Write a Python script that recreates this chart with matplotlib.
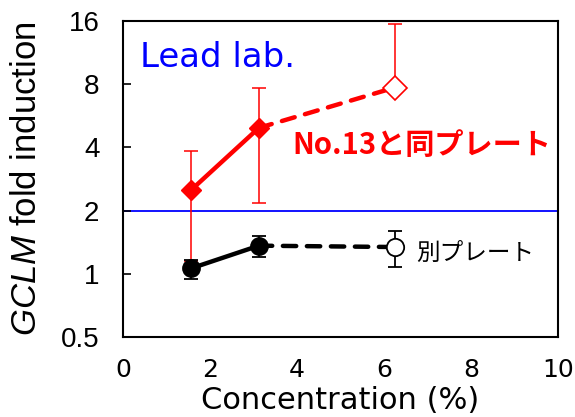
import matplotlib
matplotlib.use("Agg")
import matplotlib.pyplot as plt
from matplotlib.ticker import FixedLocator, NullLocator

plt.rcParams["mathtext.fontset"] = "custom"
plt.rcParams["mathtext.it"] = "Liberation Sans:italic"

conc = [1.5625, 3.125, 6.25]
red_vals = [2.5, 4.95, 7.7]
red_err_lo = [1.15, 2.18, 7.7]
red_err_hi = [3.82, 7.7, 15.5]
blk_vals = [1.06, 1.36, 1.34]
blk_err_lo = [0.94, 1.2, 1.08]
blk_err_hi = [1.16, 1.52, 1.59]
yticks = [0.5, 1, 2, 4, 8, 16]
ytick_labels = ["0.5", "1", "2", "4", "8", "16"]
xticks = [0, 2, 4, 6, 8, 10]

fig = plt.figure(figsize=(5.75, 4.17), dpi=100)
ax = fig.add_axes([0.214, 0.192, 0.756, 0.758])
ax.set_yscale("log", base=2)
ax.set_ylim(0.5, 16)
ax.set_xlim(0, 10)

ax.axhline(2, color="#0000ff", lw=1.3, zorder=1)

# error bars
ax.errorbar(conc, red_vals,
            yerr=[[v - l for v, l in zip(red_vals, red_err_lo)],
                  [h - v for v, h in zip(red_vals, red_err_hi)]],
            fmt="none", ecolor="red", elinewidth=1.1, capsize=5, capthick=1.1, zorder=2)
ax.errorbar(conc, blk_vals,
            yerr=[[v - l for v, l in zip(blk_vals, blk_err_lo)],
                  [h - v for v, h in zip(blk_vals, blk_err_hi)]],
            fmt="none", ecolor="black", elinewidth=1.3, capsize=5, capthick=1.3, zorder=2)

# lines
dash = (0, (3.0, 2.4))
ax.plot(conc[:2], red_vals[:2], color="red", lw=3.2, zorder=3)
ax.plot(conc[1:], red_vals[1:], color="red", lw=3.2, ls=dash, dash_capstyle="round", zorder=3)
ax.plot(conc[:2], blk_vals[:2], color="black", lw=3.2, zorder=3)
ax.plot(conc[1:], blk_vals[1:], color="black", lw=3.2, ls=dash, dash_capstyle="round", zorder=3)

# markers
ax.plot(conc[:2], red_vals[:2], ls="none", marker="D", ms=10, color="red", zorder=4)
ax.plot(conc[2:], red_vals[2:], ls="none", marker="D", ms=12, mfc="white", mec="red", mew=1.2, zorder=4)
ax.plot(conc[:2], blk_vals[:2], ls="none", marker="o", ms=12.5, color="black", zorder=4)
ax.plot(conc[2:], blk_vals[2:], ls="none", marker="o", ms=12.5, mfc="white", mec="black", mew=1.3, zorder=4)

ax.yaxis.set_major_locator(FixedLocator(yticks))
ax.yaxis.set_minor_locator(NullLocator())
ax.set_yticklabels(ytick_labels, fontfamily="Liberation Sans", fontsize=20)
ax.set_xticks(xticks)
ax.set_xticklabels([str(x) for x in xticks], fontfamily="DejaVu Sans", fontsize=18)
ax.tick_params(axis="y", direction="in", length=6, width=1.2, pad=17)
ax.tick_params(axis="x", length=0, pad=15)
for s in ax.spines.values():
    s.set_linewidth(1.5)

ax.set_xlabel("Concentration (%)", fontfamily="DejaVu Sans", fontsize=22, labelpad=3)
ax.set_ylabel(r"$\mathit{GCLM}$ fold induction", fontfamily="Liberation Sans", fontsize=25, labelpad=13)

ax.text(0.04, 0.935, "Lead lab.", transform=ax.transAxes, color="#0000ff",
        fontfamily="DejaVu Sans", fontsize=24.5, va="top", ha="left")
ax.text(3.9, 4.1, "No.13と同プレート", color="red", fontweight="bold",
        family=["Noto Sans CJK JP", "DejaVu Sans"], fontsize=21, va="center", ha="left")
ax.text(6.75, 1.25, "別プレート", color="black",
        family=["Noto Sans CJK JP", "DejaVu Sans"], fontsize=17, va="center", ha="left")

fig.savefig("out.png", dpi=100)
